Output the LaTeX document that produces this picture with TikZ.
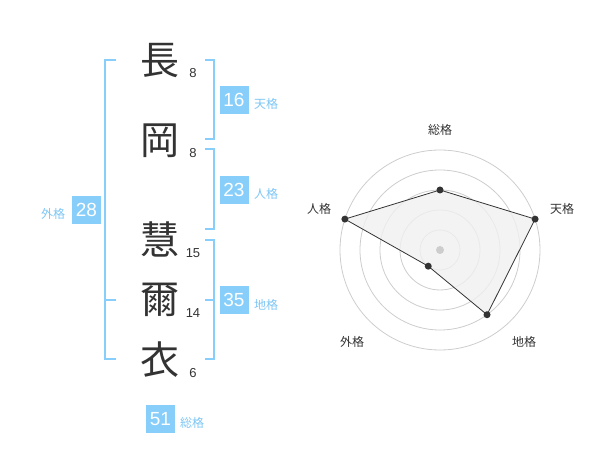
\documentclass[tikz,border=0pt]{standalone}
\usepackage{fontspec}
\setmainfont{Liberation Sans}
\newfontfamily\jp{Noto Sans CJK JP}
\definecolor{kakublue}{RGB}{135,206,250}
\definecolor{kakutext}{RGB}{125,198,245}
\definecolor{inkgray}{RGB}{51,51,51}
\definecolor{ringgray}{RGB}{205,205,205}
\definecolor{fillgray}{RGB}{240,240,240}
\begin{document}
\begin{tikzpicture}[x=1pt,y=-1pt,
	kanji/.style={font=\jp\fontsize{39}{39}\selectfont,text=inkgray,inner sep=0pt},
	strokes/.style={font=\fontsize{13}{13}\selectfont,text=inkgray,inner sep=0pt},
	kaku/.style={fill=kakublue,text=white,font=\fontsize{19}{19}\selectfont,minimum width=29pt,minimum height=28.5pt,inner sep=0pt},
	kakulabel/.style={font=\jp\fontsize{12}{12}\selectfont,text=kakutext,inner sep=0pt},
	bracket/.style={draw=kakublue,line width=2pt},
	axislabel/.style={font=\jp\fontsize{12}{12}\selectfont,text=inkgray,inner sep=0pt},
	dot/.style={circle,fill=inkgray,inner sep=0pt,minimum size=7pt}]
	\useasboundingbox (0,0) rectangle (600,470);
	% name
	\node[kanji] (k1) at (160,61) {長};
	\node[kanji] (k2) at (160,141) {岡};
	\node[kanji] (k3) at (160,239) {慧};
	\node[kanji] (k4) at (160,300) {爾};
	\node[kanji] (k5) at (160,360) {衣};
	\node[strokes] (s1) at (193,73) {8};
	\node[strokes] (s2) at (193,153) {8};
	\node[strokes] (s3) at (193,253) {15};
	\node[strokes] (s4) at (193,313) {14};
	\node[strokes] (s5) at (193,373) {6};
	% brackets
	\draw[bracket] (116,60) -- (105,60) -- (105,359) -- (116,359);
	\draw[bracket] (105,300) -- (116,300);
	\draw[bracket] (205,60) -- (214,60) -- (214,139) -- (205,139);
	\draw[bracket] (205,149) -- (214,149) -- (214,229) -- (205,229);
	\draw[bracket] (205,240) -- (214,240) -- (214,359) -- (205,359);
	\draw[bracket] (214,300) -- (205,300);
	% scores
	\node[kaku] (gai) at (86.5,210) {28};
	\node[kakulabel] at (53,214) {外格};
	\node[kaku] (ten) at (234,100) {16};
	\node[kakulabel] at (266,104) {天格};
	\node[kaku] (jin) at (234,190) {23};
	\node[kakulabel] at (266,194) {人格};
	\node[kaku] (chi) at (234,300) {35};
	\node[kakulabel] at (266,305) {地格};
	\node[kaku] (sou) at (160.5,419) {51};
	\node[kakulabel] at (192,423) {総格};
	% radar
	\begin{scope}[shift={(440,250)},yscale=-1]
		\foreach \r in {20,40,60,80,100}
			\draw[ringgray,line width=0.8pt] (0,0) circle (\r);
		\coordinate (rsou) at (90:60);
		\coordinate (rten) at (18:100);
		\coordinate (rchi) at (-54:80);
		\coordinate (rgai) at (-126:20);
		\coordinate (rjin) at (162:100);
		\draw[fill=fillgray,fill opacity=0.8,draw=inkgray,line width=0.8pt]
			(rsou) -- (rten) -- (rchi) -- (rgai) -- (rjin) -- cycle;
		\fill[ringgray] (0,0) circle (4);
		\foreach \p in {rsou,rten,rchi,rgai,rjin}
			\node[dot] at (\p) {};
	\end{scope}
	\node[axislabel] at (440,130) {総格};
	\node[axislabel] at (562,209) {天格};
	\node[axislabel] at (524,342) {地格};
	\node[axislabel] at (352,342) {外格};
	\node[axislabel] at (319,209) {人格};
\end{tikzpicture}
\end{document}
